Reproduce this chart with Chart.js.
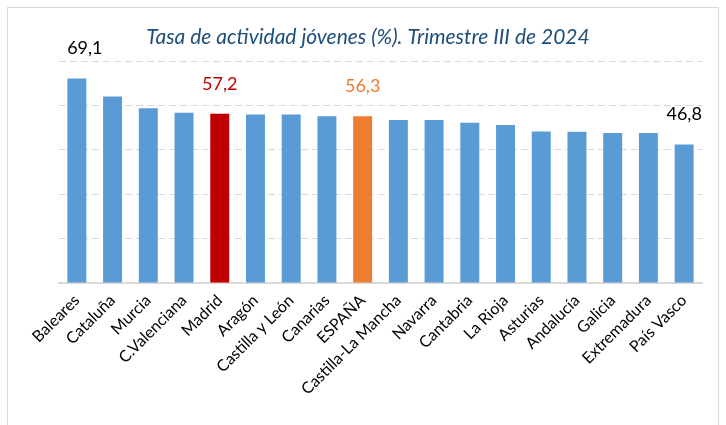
<!DOCTYPE html>
<html>
<head>
<meta charset="utf-8">
<script src="https://cdn.jsdelivr.net/npm/chart.js@4.4.1/dist/chart.umd.min.js"></script>
<style>
  body { margin: 0; background: #fff; }
  #frame { position: absolute; left: 7px; top: 7px; width: 710px; height: 440px; border: 1px solid #d9d9d9; }
  #wrap { position: absolute; left: 0; top: 0; width: 726px; height: 425px; }
</style>
</head>
<body>
<div id="frame"></div>
<div id="wrap"><canvas id="chart" width="726" height="425"></canvas></div>
<script>
var regiones = ['Baleares', 'Cataluña', 'Murcia', 'C.Valenciana', 'Madrid', 'Aragón', 'Castilla y León',
  'Canarias', 'ESPAÑA', 'Castilla-La Mancha', 'Navarra', 'Cantabria', 'La Rioja', 'Asturias',
  'Andalucía', 'Galicia', 'Extremadura', 'País Vasco'];
var tasa = [69.1, 63.0, 59.0, 57.5, 57.2, 56.9, 56.9, 56.3, 56.3, 55.1, 55.1, 54.1, 53.4, 51.2,
  51.1, 50.7, 50.7, 46.8];
var etiquetadas = ['Baleares', 'Madrid', 'ESPAÑA', 'País Vasco'];
var titulo = 'Tasa de actividad jóvenes (%). Trimestre III de 2024';

var colores = regiones.map(function(r) {
  if (r == 'Madrid') return '#c00000';
  if (r == 'ESPAÑA') return '#ed7d31';
  return '#5b9bd5';
});

var extras = {
  id: 'extras',
  afterDatasetsDraw: function(chart) {
    var ctx = chart.ctx;
    var meta = chart.getDatasetMeta(0);
    ctx.save();
    ctx.textAlign = 'center';
    ctx.textBaseline = 'middle';
    ctx.font = '18px Lato';
    for (var i = 0; i < regiones.length; i++) {
      if (etiquetadas.indexOf(regiones[i]) < 0) continue;
      var bar = meta.data[i];
      // el primer rótulo está algo desplazado a la derecha en el original
      var dx = i == 0 ? 8 : 0;
      ctx.fillStyle = colores[i] == '#5b9bd5' ? '#000000' : colores[i];
      ctx.fillText(tasa[i].toFixed(1).replace('.', ','), bar.x + dx, bar.y - 30);
    }
    ctx.font = 'italic 21px Lato';
    ctx.fillStyle = '#1f4e79';
    ctx.fillText(titulo, 368, 37);
    ctx.restore();
  }
};

var ctx = document.getElementById('chart');
var chart = new Chart(ctx, {
  type: 'bar',
  data: {
    labels: regiones,
    datasets: [{
      data: tasa,
      backgroundColor: colores,
      barPercentage: 0.9,
      categoryPercentage: 0.59
    }]
  },
  options: {
    responsive: false,
    animation: false,
    layout: { padding: { left: 59, right: 24, top: 61, bottom: 0 } },
    plugins: { legend: { display: false }, tooltip: { enabled: false } },
    scales: {
      x: {
        grid: { display: false, drawTicks: false },
        border: { display: true, color: '#d9d9d9', width: 2 },
        ticks: {
          autoSkip: false, maxRotation: 45, minRotation: 45, padding: 8,
          color: '#000', font: { family: 'Lato', size: 16 }
        },
        afterFit: function(scale) { scale.height = 142; }
      },
      y: {
        min: 0, max: 75,
        ticks: { display: false, stepSize: 15 },
        grid: { color: '#d9d9d9', drawTicks: false },
        border: { display: false, dash: [7, 4] },
        afterFit: function(scale) { scale.width = 0; }
      }
    }
  },
  plugins: [extras]
});
</script>
</body>
</html>
